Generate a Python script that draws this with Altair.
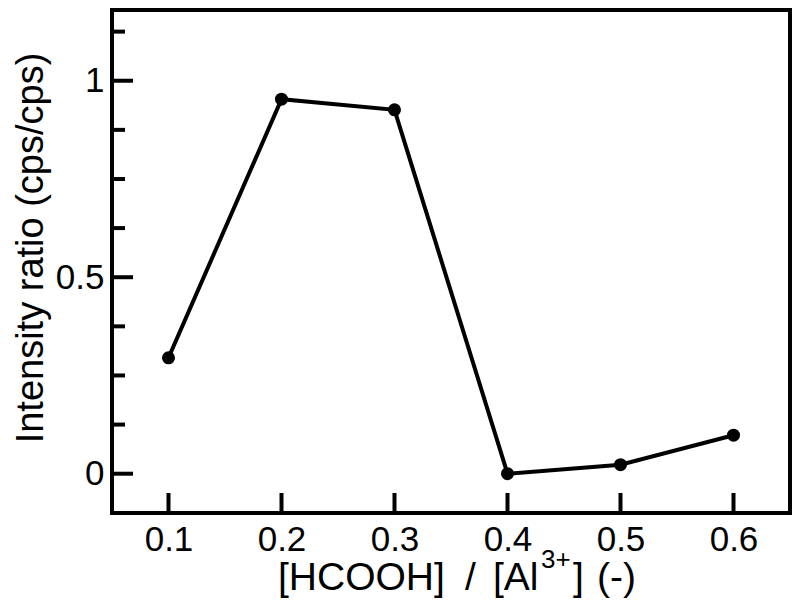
import altair as alt
import pandas as pd

# ---- data ----
ratio = [0.1, 0.2, 0.3, 0.4, 0.5, 0.6]
intensity = [0.295, 0.953, 0.926, 0.0, 0.023, 0.098]

x_tick_values = [0.1, 0.2, 0.3, 0.4, 0.5, 0.6]
y_major_values = [0.0, 0.5, 1.0]
y_minor_values = [0.125, 0.25, 0.375, 0.625, 0.75, 0.875, 1.125]

FONT = "Liberation Sans"
W, H = 678, 503

df = pd.DataFrame({"ratio": ratio, "intensity": intensity})
df_xt = pd.DataFrame({"ratio": x_tick_values})
df_ymaj = pd.DataFrame({"intensity": y_major_values})
df_ymin = pd.DataFrame({"intensity": y_minor_values})
one = pd.DataFrame({"k": [0]})

xs = alt.Scale(domain=[0.05, 0.65], nice=False, zero=False)
ys = alt.Scale(domain=[-0.1, 1.18], nice=False, zero=False)

x_axis = alt.Axis(values=x_tick_values, format=".1f", title=None, ticks=False,
                  domain=False, grid=False, labelFontSize=35, labelFont=FONT,
                  labelColor="black", labelPadding=37, labelBaseline="alphabetic",
                  labelFlush=False)
y_axis = alt.Axis(values=y_major_values, format="~g", title=None, ticks=False,
                  domain=False, grid=False, labelFontSize=35, labelFont=FONT,
                  labelColor="black", labelPadding=8, labelFlush=False)

X = alt.X("ratio:Q", scale=xs, axis=x_axis)
Y = alt.Y("intensity:Q", scale=ys, axis=y_axis)

line = alt.Chart(df).mark_line(color="black", strokeWidth=4).encode(x=X, y=Y)
pts = alt.Chart(df).mark_circle(color="black", size=170, opacity=1).encode(x=X, y=Y)

xt = alt.Chart(df_xt).mark_rule(color="black", strokeWidth=4).encode(
    x=X, y=alt.value(H), y2=alt.value(H - 20))
ymaj = alt.Chart(df_ymaj).mark_rule(color="black", strokeWidth=4).encode(
    y=Y, x=alt.value(0), x2=alt.value(21))
ymin = alt.Chart(df_ymin).mark_rule(color="black", strokeWidth=4).encode(
    y=Y, x=alt.value(0), x2=alt.value(13))

def txt(s, px, py, size=39, **kw):
    return alt.Chart(one).mark_text(text=s, font=FONT, fontSize=size, color="black",
                                    align=kw.get("align", "left"),
                                    baseline="alphabetic",
                                    angle=kw.get("angle", 0)).encode(
        x=alt.value(px), y=alt.value(py))

TB = 580  # title baseline (plot coords)
titles = [
    txt("[HCOOH]", 166, TB),
    txt("/", 353, TB),
    txt("[Al", 381, TB),
    txt("3+", 429, TB - 22, size=26),
    txt("]", 461, TB),
    txt("(-)", 485, TB),
    txt("Intensity ratio (cps/cps)", -69, 238, size=38, align="center", angle=270),
]

chart = alt.layer(line, pts, xt, ymaj, ymin, *titles).properties(
    width=W, height=H,
    autosize=alt.AutoSizeParams(type="none"),
    padding={"left": 104, "top": 2, "right": 2, "bottom": 86},
    background="white",
).configure_view(stroke="black", strokeWidth=4)

chart.save("out.html", embed_options={"renderer": "svg", "actions": False})
